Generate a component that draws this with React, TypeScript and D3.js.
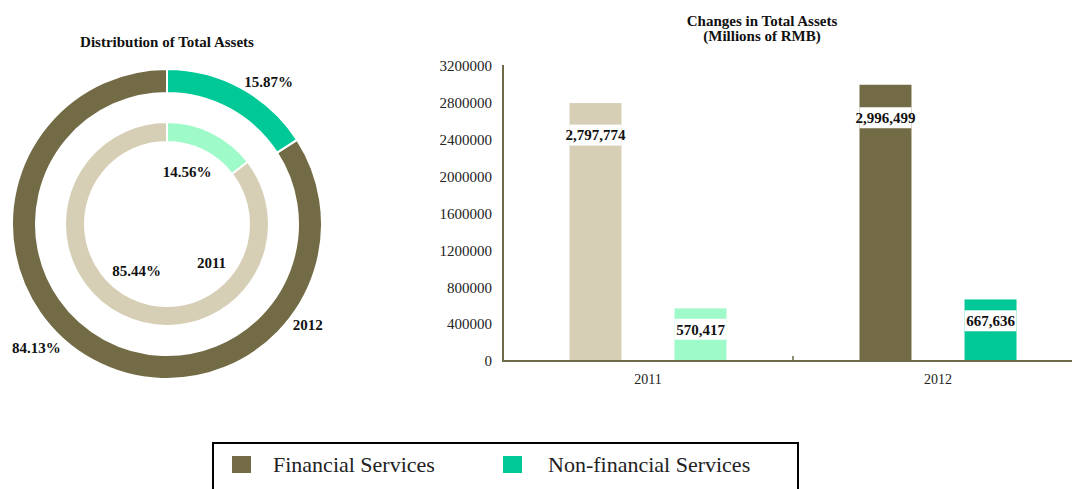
import * as d3 from 'd3';

// chart data
const years = ['2011', '2012'];
const seriesNames = ['Financial Services', 'Non-financial Services'];
const financialAssets = [2797774, 2996499];
const nonFinancialAssets = [570417, 667636];
const share2011 = [85.44, 14.56]; // financial, non-financial
const share2012 = [84.13, 15.87];
const yTicks = [0, 400000, 800000, 1200000, 1600000, 2000000, 2400000, 2800000, 3200000];

const colors: Record<string, string[]> = {
  '2011': ['#d6cfb6', '#9efac8'],
  '2012': ['#736b45', '#00c896'],
};
const legendColors = ['#736b45', '#00c896'];
const serif = 'Liberation Serif';

const W = 1072;
const H = 489;

const Donut = () => {
  const cx = 167;
  const cy = 224;
  const pie = d3.pie<number>().sort(null).value(d => d);
  const rings = [
    { year: '2011', shares: share2011, inner: 82, outer: 102, labelR: [56, 56], labelA: [213, 21], yearAt: [131, 59] },
    { year: '2012', shares: share2012, inner: 131, outer: 155, labelR: [180, 175], labelA: [226.5, 35.5], yearAt: [125.5, 173] },
  ];
  const polar = (deg: number, r: number) => {
    const a = (deg * Math.PI) / 180;
    return [cx + r * Math.sin(a), cy - r * Math.cos(a)];
  };
  return (
    <g>
      <text x={cx} y={47} textAnchor="middle" fontFamily={serif} fontWeight="bold" fontSize={15} fill="#111">
        Distribution of Total Assets
      </text>
      {rings.map(ring => {
        // non-financial first so it starts at 12 o'clock
        const arcs = pie([ring.shares[1], ring.shares[0]]);
        const arc = d3.arc<d3.PieArcDatum<number>>().innerRadius(ring.inner).outerRadius(ring.outer);
        const [yx, yy] = polar(ring.yearAt[0], ring.yearAt[1]);
        return (
          <g key={ring.year}>
            {arcs.map((a, i) => (
              <path
                key={i}
                d={arc(a) || ''}
                transform={`translate(${cx},${cy})`}
                fill={colors[ring.year][i === 0 ? 1 : 0]}
                stroke="#fff"
                strokeWidth={2}
              />
            ))}
            {ring.shares.map((s, i) => {
              const [lx, ly] = polar(ring.labelA[i], ring.labelR[i]);
              return (
                <text key={i} x={lx} y={ly} dy="0.35em" textAnchor="middle" fontFamily={serif} fontWeight="bold" fontSize={15} fill="#111">
                  {s.toFixed(2)}%
                </text>
              );
            })}
            <text x={yx} y={yy} dy="0.35em" textAnchor="middle" fontFamily={serif} fontWeight="bold" fontSize={15} fill="#111">
              {ring.year}
            </text>
          </g>
        );
      })}
    </g>
  );
};

const Bars = () => {
  const x0 = d3.scaleBand<string>().domain(years).range([503, 1083]).padding(0);
  const x1 = d3.scaleBand<string>().domain(seriesNames).range([0, x0.bandwidth()]).paddingInner(0.505).paddingOuter(0.633);
  const y = d3.scaleLinear().domain([0, 3200000]).range([361, 66]);
  const fmt = d3.format(',');
  const values = [financialAssets, nonFinancialAssets];
  return (
    <g>
      <text x={762} y={26} textAnchor="middle" fontFamily={serif} fontWeight="bold" fontSize={15} fill="#111">
        Changes in Total Assets
      </text>
      <text x={762} y={41} textAnchor="middle" fontFamily={serif} fontWeight="bold" fontSize={15} fill="#111">
        (Millions of RMB)
      </text>
      {yTicks.map(t => (
        <text key={t} x={492} y={y(t)} dy="0.35em" textAnchor="end" fontFamily={serif} fontSize={15} fill="#222">
          {t}
        </text>
      ))}
      {years.map((yr, yi) =>
        seriesNames.map((s, si) => {
          const v = values[si][yi];
          const bx = (x0(yr) || 0) + (x1(s) || 0);
          const bw = x1.bandwidth();
          const ly = y(v) + 18 + (5 * v) / 1e6;
          return (
            <g key={yr + s}>
              <rect x={bx} y={y(v)} width={bw} height={y(0) - y(v)} fill={colors[yr][si]} />
              <rect x={bx} y={ly - 10.5} width={bw} height={21} fill="#fff" />
              <text x={bx + bw / 2} y={ly} dy="0.35em" textAnchor="middle" fontFamily={serif} fontWeight="bold" fontSize={15} fill="#111">
                {fmt(v)}
              </text>
            </g>
          );
        })
      )}
      <line x1={503} x2={503} y1={65} y2={362} stroke="#6f6a48" strokeWidth={2} />
      <line x1={502} x2={1083} y1={361} y2={361} stroke="#6f6a48" strokeWidth={2} />
      {x0.domain().slice(1).map(d => (
        <line key={d} x1={x0(d)} x2={x0(d)} y1={356} y2={361} stroke="#6f6a48" strokeWidth={1.5} />
      ))}
      {years.map(yr => (
        <text key={yr} x={(x0(yr) || 0) + x0.bandwidth() / 2} y={379} dy="0.35em" textAnchor="middle" fontFamily={serif} fontSize={14} fill="#222">
          {yr}
        </text>
      ))}
    </g>
  );
};

const Legend = () => {
  const items = [
    { name: seriesNames[0], sx: 232, tx: 273 },
    { name: seriesNames[1], sx: 503, tx: 548 },
  ];
  return (
    <g>
      <rect x={213} y={443} width={585} height={70} fill="#fff" stroke="#000" strokeWidth={2} />
      {items.map((it, i) => (
        <g key={it.name}>
          <rect x={it.sx} y={456} width={19} height={17} fill={legendColors[i]} />
          <text x={it.tx} y={472} fontFamily={serif} fontSize={22} fill="#222">
            {it.name}
          </text>
        </g>
      ))}
    </g>
  );
};

export default function App() {
  return (
    <svg width={W} height={H} style={{ position: 'absolute', left: 0, top: 0, background: '#fff' }}>
      <rect width={W} height={H} fill="#fff" />
      <Donut />
      <Bars />
      <Legend />
    </svg>
  );
}
